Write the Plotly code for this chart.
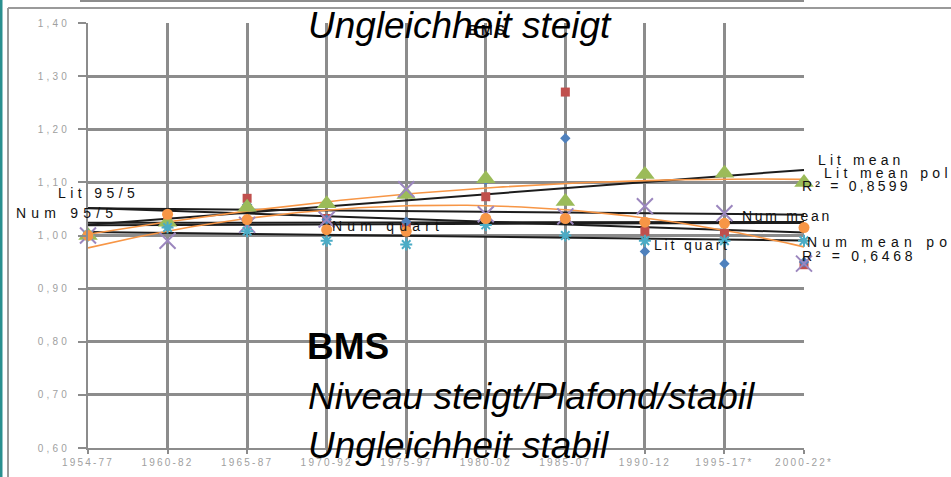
import numpy as np
import plotly.graph_objects as go

categories = ["1954-77", "1960-82", "1965-87", "1970-92", "1975-97",
              "1980-02", "1985-07", "1990-12", "1995-17*", "2000-22*"]
num_95_5 = [1.00, 1.017, 1.058, 1.030, 1.026, 1.105, 1.183, 0.970, 0.947, 0.950]
lit_95_5 = [1.00, 1.030, 1.070, 1.032, 1.020, 1.073, 1.270, 1.008, 1.004, 0.945]
lit_mean = [1.00, 1.025, 1.053, 1.060, 1.077, 1.107, 1.064, 1.115, 1.117, 1.100]
num_mean = [1.00, 0.990, 1.020, 1.030, 1.087, 1.040, 1.036, 1.055, 1.042, 0.947]
lit_quart = [1.00, 1.015, 1.008, 0.990, 0.983, 1.020, 1.000, 0.990, 0.990, 0.990]
num_quart = [1.00, 1.040, 1.030, 1.011, 1.008, 1.032, 1.032, 1.025, 1.023, 1.015]
y_ticks = [0.6, 0.7, 0.8, 0.9, 1.0, 1.1, 1.2, 1.3, 1.4]
y_ticktext = ["0,60", "0,70", "0,80", "0,90", "1,00", "1,10", "1,20", "1,30", "1,40"]

W, H = 951, 477
L, R, T, B = 88, 804, 23, 448

xi = np.arange(len(categories))
xf = np.linspace(0, len(categories) - 1, 120)

def spaced(t, ls):
    return '<span style="letter-spacing:%.1fpx">%s</span>' % (ls, t)

fig = go.Figure()

# trendlines
for vals in [lit_95_5, num_95_5, lit_mean, num_mean, lit_quart, num_quart]:
    c = np.polyfit(xi, vals, 1)
    fig.add_trace(go.Scatter(x=[xi[0], xi[-1]], y=np.polyval(c, [xi[0], xi[-1]]),
                             mode="lines", line=dict(color="#1c1c1c", width=2),
                             showlegend=False, hoverinfo="skip"))
for vals in [lit_mean, num_mean]:
    c = np.polyfit(xi, vals, 2)
    fig.add_trace(go.Scatter(x=xf, y=np.polyval(c, xf), mode="lines",
                             line=dict(color="#F79646", width=1.6),
                             showlegend=False, hoverinfo="skip"))

series = [
    ("Lit 95/5", lit_95_5, "square", "#C0504D", 9, 0),
    ("Num 95/5", num_95_5, "diamond", "#4F81BD", 8, 0),
    ("Lit mean", lit_mean, "triangle-up", "#9BBB59", 17, 0),
    ("Num mean", num_mean, "x-thin-open", "#9B86BE", 16, 2),
    ("Lit quart", lit_quart, "asterisk-open", "#4BACC6", 10, 2),
    ("Num quart", num_quart, "circle", "#F79646", 11, 0),
]
for name, vals, sym, col, sz, lw in series:
    mk = dict(symbol=sym, color=col, size=sz)
    if lw:
        mk["line"] = dict(color=col, width=lw)
    fig.add_trace(go.Scatter(x=xi, y=vals, mode="markers", name=name,
                             marker=mk, cliponaxis=False, showlegend=False))

def px(x):
    return (x - L) / (R - L)

def py(y):
    return (B - y) / (B - T)

shapes = [
    dict(type="line", xref="paper", yref="paper", x0=px(1), x1=px(1), y0=py(0), y1=py(H),
         line=dict(color="#2a8f8f", width=3)),
    dict(type="line", xref="paper", yref="paper", x0=px(8), x1=px(8), y0=py(8), y1=py(H),
         line=dict(color="#9a9a9a", width=2)),
    dict(type="line", xref="paper", yref="paper", x0=px(8), x1=px(W), y0=py(8), y1=py(8),
         line=dict(color="#9a9a9a", width=2)),
    dict(type="line", xref="paper", yref="paper", x0=px(80), x1=px(R), y0=py(1), y1=py(1),
         line=dict(color="#8c8c8c", width=2)),
]

ann = []
def lab(text, x, y, ls, size=14, bold=False):
    t = ("<b>%s</b>" % text) if bold else text
    if ls:
        t = spaced(t, ls)
    ann.append(dict(text=t, xref="paper", yref="paper",
                    x=px(x), y=py(y), xanchor="left", yanchor="middle",
                    showarrow=False,
                    font=dict(family="Liberation Sans, Arial", size=size, color="#111")))

lab("BMS", 466, 30, 3, 14, True)
lab("Lit 95/5", 56, 193, 4.4)
lab("Num 95/5", 14, 213, 5.2)
lab("Num quart", 330, 226, 5.2)
lab("Lit quart", 652, 245, 2.8)
lab("Num mean", 740, 216, 2.7)
lab("Lit mean", 816, 160, 4.1)
lab("Lit mean pol", 822, 173, 4.3)
lab("R² = 0,8599", 800, 186, 3.2)
lab("Num mean po", 805, 242, 5.2)
lab("R² = 0,6468", 800, 256, 3.7)

big = dict(family="Liberation Sans, Arial", size=37, color="#000")
def bigtext(text, x, y, bold=False):
    ann.append(dict(text=("<b>%s</b>" % text) if bold else "<i>%s</i>" % text,
                    xref="paper", yref="paper", x=px(x), y=py(y),
                    xanchor="left", yanchor="middle", showarrow=False, font=big))

bigtext("Ungleichheit steigt", 306, 25)
bigtext("BMS", 305, 346, bold=True)
bigtext("Niveau steigt/Plafond/stabil", 306, 396)
bigtext("Ungleichheit stabil", 306, 445)

tickfont = dict(family="Liberation Sans, Arial", size=10, color="#a0a0a0")
fig.update_layout(
    width=W, height=H, autosize=False,
    margin=dict(l=L, r=W - R, t=T, b=H - B, pad=0, autoexpand=False),
    paper_bgcolor="white", plot_bgcolor="white",
    shapes=shapes, annotations=ann,
    xaxis=dict(range=[0, len(categories) - 1], tickvals=list(xi),
               ticktext=[spaced(c, 2.2) for c in categories],
               showgrid=True, gridcolor="#8c8c8c", gridwidth=2.5, zeroline=False,
               ticks="outside", ticklen=4, tickcolor="#8c8c8c", tickwidth=2,
               tickfont=tickfont, automargin=False,
               showline=True, linecolor="#8c8c8c", linewidth=2, fixedrange=True),
    yaxis=dict(range=[0.6, 1.4], tickvals=y_ticks,
               ticktext=[spaced(t, 3.2) for t in y_ticktext],
               showgrid=True, gridcolor="#8c8c8c", gridwidth=2.5, zeroline=False,
               ticks="outside", ticklen=8, tickcolor="#8c8c8c", tickwidth=2,
               tickfont=tickfont, ticklabelstandoff=6, automargin=False,
               showline=True, linecolor="#8c8c8c", linewidth=2, fixedrange=True),
)

fig.write_html("out.html", config={"displayModeBar": False},
               post_script="document.body.style.margin='0';document.body.style.overflow='hidden';")
